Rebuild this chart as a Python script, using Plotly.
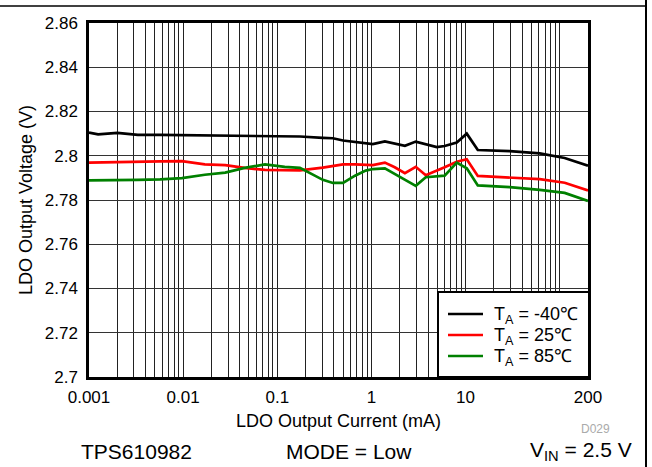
import plotly.graph_objects as go

# ---------------- data ----------------
current_mA = [0.001, 0.00125, 0.002, 0.0033, 0.0057, 0.0097, 0.017, 0.028, 0.045,
              0.074, 0.12, 0.174, 0.305, 0.39, 0.5, 0.67, 0.87, 1.035, 1.39, 1.77,
              2.27, 2.96, 3.78, 4.95, 6.0, 8.07, 10.3, 13.5, 29.5, 61.4, 113, 200]

v_m40 = [2.8105, 2.8097, 2.8103, 2.8094, 2.8094, 2.8093, 2.8092, 2.8092, 2.8092,
         2.8092, 2.8090, 2.8087, 2.8081, 2.8079, 2.8069, 2.8062, 2.8054, 2.8053,
         2.8065, 2.8055, 2.8045, 2.8064, 2.8053, 2.8039, 2.8044, 2.8060, 2.8100,
         2.8026, 2.8021, 2.8011, 2.7990, 2.7955]

v_25 = [2.7969, 2.7970, 2.7973, 2.7974, 2.7975, 2.7976, 2.7961, 2.7958, 2.7945,
        2.7936, 2.7933, 2.7934, 2.7946, 2.7952, 2.7961, 2.7961, 2.7960, 2.7958,
        2.7969, 2.7948, 2.7921, 2.7950, 2.7912, 2.7931, 2.7948, 2.7973, 2.7984,
        2.7909, 2.7902, 2.7894, 2.7878, 2.7843]

v_85 = [2.7889, 2.7890, 2.7892, 2.7891, 2.7893, 2.7899, 2.7914, 2.7924, 2.7945,
        2.7961, 2.7950, 2.7945, 2.7891, 2.7877, 2.7877, 2.7910, 2.7933, 2.7940,
        2.7943, 2.7917, 2.7890, 2.7864, 2.7903, 2.7908, 2.7910, 2.7969, 2.7943,
        2.7866, 2.7858, 2.7846, 2.7832, 2.7796]

series_names = ["T<sub>A</sub> = -40℃", "T<sub>A</sub> = 25℃", "T<sub>A</sub> = 85℃"]
series_colors = ["#000000", "#ff0000", "#008000"]

x_label_vals = [0.001, 0.01, 0.1, 1, 10, 200]
x_label_text = ["0.001", "0.01", "0.1", "1", "10", "200"]
y_tick_vals = [2.70, 2.72, 2.74, 2.76, 2.78, 2.80, 2.82, 2.84, 2.86]
y_tick_text = ["2.7", "2.72", "2.74", "2.76", "2.78", "2.8", "2.82", "2.84", "2.86"]

x_title = "LDO Output Current (mA)"
y_title = "LDO Output Voltage (V)"

# minor grid lines at every 1..9 multiple of each decade
x_minor_vals = []
for dec in [0.001, 0.01, 0.1, 1, 10, 100]:
    for m in range(1, 10):
        v = round(dec * m, 6)
        if v <= 200 and v not in x_label_vals:
            x_minor_vals.append(v)

# ---------------- layout geometry ----------------
W, H = 652, 467
ML, MR, MT, MB = 89, 64, 23, 90
PW, PH = W - ML - MR, H - MT - MB

def px_x(p):
    return (p - ML) / PW

def px_y(p):
    return (H - MB - p) / PH

FONT = "Liberation Sans, Arial, sans-serif"
GRID = "#222222"

fig = go.Figure()
for yv, name, col in zip([v_m40, v_25, v_85], series_names, series_colors):
    fig.add_trace(go.Scatter(x=current_mA, y=yv, mode="lines", name=name,
                             line=dict(color=col, width=2.7)))

fig.update_layout(
    width=W, height=H,
    margin=dict(l=ML, r=MR, t=MT, b=MB, pad=0, autoexpand=False),
    paper_bgcolor="white", plot_bgcolor="white",
    font=dict(family=FONT, color="black", size=16),
    showlegend=False,
    xaxis=dict(type="log", range=[-3, 2.30103], automargin=False,
               tickvals=x_label_vals, ticktext=x_label_text,
               showgrid=True, gridcolor=GRID, gridwidth=1,
               minor=dict(tickvals=x_minor_vals, showgrid=True, gridcolor=GRID,
                          gridwidth=1, ticks=""),
               showline=True, mirror=True, linecolor="black", linewidth=2.5,
               ticks="", ticklabelstandoff=3, zeroline=False,
               tickfont=dict(size=17)),
    yaxis=dict(range=[2.70, 2.86], tickvals=y_tick_vals, ticktext=y_tick_text,
               automargin=False,
               showgrid=True, gridcolor="#333333", gridwidth=1,
               showline=True, mirror=True, linecolor="black", linewidth=2.5,
               ticks="", ticklabelstandoff=5, zeroline=False,
               tickfont=dict(size=17),
               title=dict(text=y_title, font=dict(size=18), standoff=8)),
)

# x axis title
fig.add_annotation(text=x_title, x=px_x(338), y=px_y(421), xref="paper", yref="paper",
                   showarrow=False, xanchor="center", yanchor="middle", font=dict(size=18))

# legend box (drawn manually to match the reference geometry)
fig.add_shape(type="rect", xref="paper", yref="paper",
              x0=px_x(438), x1=px_x(589), y0=px_y(377), y1=px_y(292),
              fillcolor="white", line=dict(color="black", width=2), layer="above")
for i, (name, col) in enumerate(zip(series_names, series_colors)):
    yc = 314 + 21 * i
    fig.add_shape(type="line", xref="paper", yref="paper",
                  x0=px_x(448), x1=px_x(483), y0=px_y(yc), y1=px_y(yc),
                  line=dict(color=col, width=2.5), layer="above")
    fig.add_annotation(text=name, x=px_x(492), y=px_y(yc + 1), xref="paper", yref="paper",
                       showarrow=False, xanchor="left", yanchor="middle",
                       font=dict(size=18))

# bottom annotations
fig.add_annotation(text="TPS610982", x=px_x(136), y=px_y(451), xref="paper", yref="paper",
                   showarrow=False, xanchor="center", yanchor="middle", font=dict(size=21))
fig.add_annotation(text="MODE = Low", x=px_x(349), y=px_y(451), xref="paper", yref="paper",
                   showarrow=False, xanchor="center", yanchor="middle", font=dict(size=21))
fig.add_annotation(text="V<sub>IN</sub> = 2.5 V", x=px_x(581), y=px_y(451), xref="paper", yref="paper",
                   showarrow=False, xanchor="center", yanchor="middle", font=dict(size=21))
fig.add_annotation(text="D029", x=px_x(595), y=px_y(429), xref="paper", yref="paper",
                   showarrow=False, xanchor="center", yanchor="middle",
                   font=dict(size=12, color="#aaaaaa"))

# frame lines outside the plot (top rule and right rule)
fig.add_shape(type="line", xref="paper", yref="paper",
              x0=px_x(0), x1=px_x(646), y0=px_y(6), y1=px_y(6),
              line=dict(color="black", width=1.5))
fig.add_shape(type="line", xref="paper", yref="paper",
              x0=px_x(646), x1=px_x(646), y0=px_y(0), y1=px_y(H),
              line=dict(color="black", width=2))

fig.write_html("out.html", config={"displayModeBar": False},
               post_script="document.body.style.margin='0px';document.body.style.overflow='hidden';")
